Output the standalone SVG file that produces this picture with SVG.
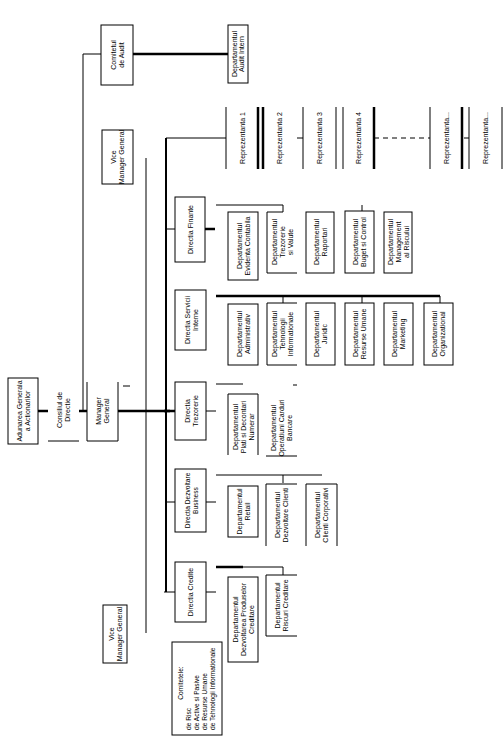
<svg xmlns="http://www.w3.org/2000/svg" width="504" height="744" viewBox="0 0 504 744">
<style>
text{font-family:"Liberation Sans",Arial,sans-serif;font-size:7px;fill:#000}
.c{text-anchor:middle}
.s{text-anchor:start}
.b{fill:#fff;stroke:#000;stroke-width:1}
.o{fill:none;stroke:#000;stroke-width:1}
.l{fill:none;stroke:#000;stroke-width:1}
.t{fill:none;stroke:#000;stroke-width:2.5}
.m{fill:none;stroke:#000;stroke-width:2}
.d{fill:none;stroke:#000;stroke-width:1;stroke-dasharray:5 4}
</style>
<rect width="504" height="744" fill="#fff"/>
<g id="connectors">
<path class="t" d="M38,411 H48 M79,411 H87"/>
<path class="l" d="M83,411 V54 H101"/>
<path class="t" d="M133,54 H228"/>
<path class="t" d="M118,411 H170"/>
<path class="l" d="M123,386 H130"/>
<path class="m" d="M166,138 V592"/>
<path class="l" d="M146,158 V633"/>
<path class="l" d="M166,138 H226"/>
<path class="l" d="M297,138 H303"/>
<path class="d" d="M374,138 H430"/>
<path class="l" d="M464,138 H469"/>
<path class="l" d="M166,229 H175"/>
<path class="t" d="M205,229 H215"/>
<path class="l" d="M216,205 H283 V212 M362,205 V211"/>
<path class="t" d="M216,296 H440"/>
<path class="l" d="M283,296 V303 M362,296 V303 M440,296 V303"/>
<path class="t" d="M164,411 H175"/>
<path class="l" d="M206,411 H216 M216,384 H243"/>
<path class="l" d="M293,385 H297"/>
<path class="l" d="M166,502 H175 M206,502 H216"/>
<path class="l" d="M216,475 H322 M283,475 V483"/>
<path class="l" d="M164,592 H175 M206,592 H216"/>
<path class="t" d="M216,567 H243"/>
<path class="l" d="M243,567 H283 V575"/>
<path class="l" d="M48,441 H79"/>
</g>
<g id="adunarea"><rect class="b" x="8" y="378" width="30" height="66"/>
<text transform="rotate(-90)" class="c"><tspan x="-411" y="21.5">Adunarea Generala</tspan><tspan x="-411" y="29.5">a Actionarilor</tspan></text></g>
<g id="consiliul"><text transform="rotate(-90)" class="c"><tspan x="-410" y="61.5">Consiliul de</tspan><tspan x="-410" y="69.5">Directie</tspan></text></g>
<g id="manager"><path class="o" d="M87,382 V441 H118 V382"/>
<text transform="rotate(-90)" class="c"><tspan x="-411" y="101">Manager</tspan><tspan x="-411" y="109">General</tspan></text></g>
<g id="comitetul-audit"><rect class="b" x="101" y="25" width="32" height="60"/>
<text transform="rotate(-90)" class="c"><tspan x="-55" y="116">Comitetul</tspan><tspan x="-55" y="124">de Audit</tspan></text></g>
<g id="audit-intern"><rect class="b" x="228" y="25" width="20" height="58"/>
<text transform="rotate(-90)" class="c"><tspan x="-54" y="236.5">Departamentul</tspan><tspan x="-54" y="244">Audit Intern</tspan></text></g>
<g id="vice1"><rect class="b" x="102" y="130" width="31" height="54"/>
<text transform="rotate(-90)" class="c"><tspan x="-157" y="116">Vice</tspan><tspan x="-157" y="124">Manager General</tspan></text></g>
<g id="vice2"><rect class="b" x="103" y="605" width="24" height="58"/>
<text transform="rotate(-90)" class="c"><tspan x="-634" y="114">Vice</tspan><tspan x="-634" y="122">Manager General</tspan></text></g>
<g id="rep1"><path class="l" d="M226,107 V169"/><path class="t" d="M258,107 V169"/>
<text transform="rotate(-90)" class="c"><tspan x="-138" y="244.5">Reprezentanta 1</tspan></text></g>
<g id="rep2"><path class="t" d="M263,107 V169"/>
<text transform="rotate(-90)" class="c"><tspan x="-138" y="282">Reprezentanta 2</tspan></text></g>
<g id="rep3"><path class="l" d="M303,107 V169 M336,107 V169"/>
<text transform="rotate(-90)" class="c"><tspan x="-138" y="322">Reprezentanta 3</tspan></text></g>
<g id="rep4"><path class="l" d="M343,107 V169"/><path class="t" d="M374,107 V169"/>
<text transform="rotate(-90)" class="c"><tspan x="-138" y="361">Reprezentanta 4</tspan></text></g>
<g id="rep5"><path class="l" d="M430,107 V169"/><path class="t" d="M462,107 V169"/>
<text transform="rotate(-90)" class="c"><tspan x="-138" y="448.5">Reprezentanta...</tspan></text></g>
<g id="rep6"><path class="l" d="M469,107 V169 M502,107 V169"/>
<text transform="rotate(-90)" class="c"><tspan x="-138" y="488">Reprezentanta...</tspan></text></g>
<g id="dir-finante"><rect class="b" x="175" y="197" width="30" height="65"/>
<text transform="rotate(-90)" class="c"><tspan x="-229.5" y="192.5">Directia Finante</tspan></text></g>
<g id="d-evidenta"><rect class="b" x="228" y="212" width="30" height="68"/>
<text transform="rotate(-90)" class="c"><tspan x="-246" y="241.5">Departamentul</tspan><tspan x="-246" y="249.5">Evidenta Contabila</tspan></text></g>
<g id="d-trezorerie"><path class="o" d="M283,212 H267 V273 H297"/>
<text transform="rotate(-90)" class="c"><tspan x="-242" y="276.5">Departamentul</tspan><tspan x="-242" y="284.5">Trezorerie</tspan><tspan x="-242" y="292.5">si Valute</tspan></text></g>
<g id="d-raportari"><rect class="b" x="306" y="212" width="28" height="61"/>
<text transform="rotate(-90)" class="c"><tspan x="-242" y="318.5">Departamentul</tspan><tspan x="-242" y="326.5">Raportari</tspan></text></g>
<g id="d-buget"><rect class="b" x="345" y="211" width="29" height="62"/>
<text transform="rotate(-90)" class="c"><tspan x="-242" y="358">Departamentul</tspan><tspan x="-242" y="366">Buget si Control</tspan></text></g>
<g id="d-risc"><rect class="b" x="384" y="212" width="28" height="61"/>
<text transform="rotate(-90)" class="c"><tspan x="-242" y="393">Departamentul</tspan><tspan x="-242" y="401">Management</tspan><tspan x="-242" y="409">al Riscului</tspan></text></g>
<g id="dir-servicii"><rect class="b" x="175" y="290" width="31" height="60"/>
<text transform="rotate(-90)" class="c"><tspan x="-320" y="189.5">Directia Servicii</tspan><tspan x="-320" y="197.5">Interne</tspan></text></g>
<g id="s-admin"><rect class="b" x="228" y="304" width="30" height="61"/>
<text transform="rotate(-90)" class="c"><tspan x="-334" y="241.5">Departamentul</tspan><tspan x="-334" y="249.5">Administrativ</tspan></text></g>
<g id="s-it"><path class="o" d="M297,303 H267 V365 H297"/>
<text transform="rotate(-90)" class="c"><tspan x="-334" y="276.5">Departamentul</tspan><tspan x="-334" y="284.5">Tehnologii</tspan><tspan x="-334" y="292.5">Informationale</tspan></text></g>
<g id="s-juridic"><rect class="b" x="306" y="303" width="29" height="62"/>
<text transform="rotate(-90)" class="c"><tspan x="-334" y="319">Departamentul</tspan><tspan x="-334" y="327">Juridic</tspan></text></g>
<g id="s-hr"><rect class="b" x="345" y="303" width="29" height="62"/>
<text transform="rotate(-90)" class="c"><tspan x="-334" y="358">Departamentul</tspan><tspan x="-334" y="366">Resurse Umane</tspan></text></g>
<g id="s-marketing"><rect class="b" x="384" y="303" width="29" height="62"/>
<text transform="rotate(-90)" class="c"><tspan x="-334" y="397">Departamentul</tspan><tspan x="-334" y="405">Marketing</tspan></text></g>
<g id="s-org"><rect class="b" x="424" y="303" width="29" height="62"/>
<text transform="rotate(-90)" class="c"><tspan x="-334" y="437">Departamentul</tspan><tspan x="-334" y="445">Organizational</tspan></text></g>
<g id="dir-trezorerie"><rect class="b" x="175" y="382" width="31" height="58"/>
<text transform="rotate(-90)" class="c"><tspan x="-411" y="189.5">Directia</tspan><tspan x="-411" y="197.5">Trezorerie</tspan></text></g>
<g id="t-plati"><path class="o" d="M228,455 V394 H258 V455"/>
<text transform="rotate(-90)" class="c"><tspan x="-427" y="237.5">Departamentul</tspan><tspan x="-427" y="245.5">Plati si Decontari</tspan><tspan x="-427" y="253.5">Numerar</tspan></text></g>
<g id="t-carduri"><path class="o" d="M266,456 H297"/>
<text transform="rotate(-90)" class="c"><tspan x="-428" y="276">Departamentul</tspan><tspan x="-428" y="284">Operatiuni Carduri</tspan><tspan x="-428" y="292">Bancare</tspan></text></g>
<g id="dir-business"><rect class="b" x="175" y="469" width="31" height="63"/>
<text transform="rotate(-90)" class="c" style="font-size:6.6px"><tspan x="-500.5" y="189.5">Directia Dezvoltare</tspan><tspan x="-500.5" y="197.5">Business</tspan></text></g>
<g id="b-retail"><rect class="b" x="228" y="486" width="30" height="51"/>
<text transform="rotate(-90)" class="c"><tspan x="-511.5" y="241.5">Departamentul</tspan><tspan x="-511.5" y="249.5">Retail</tspan></text></g>
<g id="b-clienti"><path class="o" d="M297,484 H266 V546"/>
<text transform="rotate(-90)" class="c"><tspan x="-515" y="280">Departamentul</tspan><tspan x="-515" y="288">Dezvoltare Clienti</tspan></text></g>
<g id="b-corporativi"><path class="o" d="M306,546 V484 H337 V546"/>
<text transform="rotate(-90)" class="c"><tspan x="-515" y="320">Departamentul</tspan><tspan x="-515" y="328">Clienti Corporativi</tspan></text></g>
<g id="dir-credite"><rect class="b" x="175" y="562" width="31" height="60"/>
<text transform="rotate(-90)" class="c"><tspan x="-592" y="193">Directia Credite</tspan></text></g>
<g id="c-produse"><rect class="b" x="228" y="577" width="30" height="85"/>
<text transform="rotate(-90)" class="c"><tspan x="-619.5" y="237.5">Departamentul</tspan><tspan x="-619.5" y="245.5">Dezvoltarea Produselor</tspan><tspan x="-619.5" y="253.5">Creditare</tspan></text></g>
<g id="c-riscuri"><path class="o" d="M297,575 H266 V636 H297"/>
<text transform="rotate(-90)" class="c"><tspan x="-605.5" y="280">Departamentul</tspan><tspan x="-605.5" y="288">Riscuri Creditare</tspan></text></g>
<g id="comitetele"><rect class="b" x="172" y="642" width="50" height="93"/>
<text transform="rotate(-90)" style="font-size:6.6px"><tspan class="c" x="-683" y="182.5">Comitetele:</tspan><tspan class="s" x="-730" y="190.5">de Risc</tspan><tspan class="s" x="-730" y="198.5">de Active si Pasive</tspan><tspan class="s" x="-730" y="206.5">de Resurse Umane</tspan><tspan class="s" x="-730" y="214.5">de Tehnologii Informationale</tspan></text></g>
</svg>
